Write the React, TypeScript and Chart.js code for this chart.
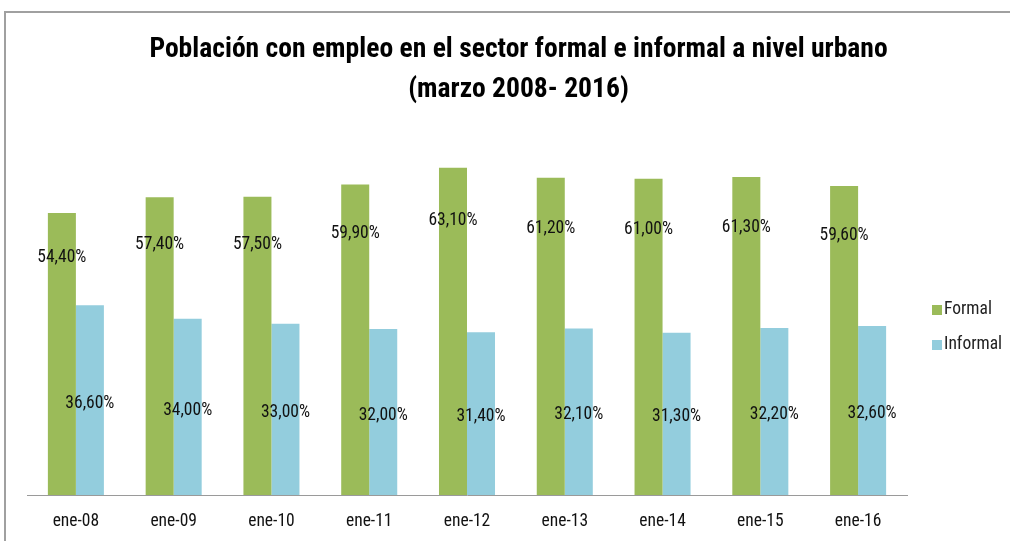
import React, { useEffect, useRef } from "react";
import { Chart, registerables } from "chart.js";

Chart.register(...registerables);

const categories = ["ene-08", "ene-09", "ene-10", "ene-11", "ene-12", "ene-13", "ene-14", "ene-15", "ene-16"];
const formal = [54.4, 57.4, 57.5, 59.9, 63.1, 61.2, 61.0, 61.3, 59.6];
const informal = [36.6, 34.0, 33.0, 32.0, 31.4, 32.1, 31.3, 32.2, 32.6];
const titleLines = ["Población con empleo en el sector formal e informal a nivel urbano", "(marzo 2008- 2016)"];

const FONT = '"Roboto Condensed", "Liberation Sans Narrow", "Arial Narrow", sans-serif';

const labelPlugin = {
  id: "valueLabels",
  afterDatasetsDraw(chart: any) {
    const ctx = chart.ctx;
    const yScale = chart.scales.y;
    const fracs = [0.84, 0.48];
    ctx.save();
    ctx.font = `17.5px ${FONT}`;
    ctx.fillStyle = "#111";
    ctx.textAlign = "center";
    ctx.textBaseline = "middle";
    chart.data.datasets.forEach((ds: any, di: number) => {
      const meta = chart.getDatasetMeta(di);
      meta.data.forEach((bar: any, i: number) => {
        const v = ds.data[i] as number;
        const y = yScale.getPixelForValue(v * fracs[di]);
        const txt = v.toFixed(2).replace(".", ",") + "%";
        ctx.fillText(txt, bar.x, y);
      });
    });
    ctx.restore();
  },
};

const legendPlugin = {
  id: "sideLegend",
  afterDraw(chart: any) {
    const ctx = chart.ctx;
    const x0 = chart.chartArea.right + 25;
    const yTop = 310;
    const gap = 35;
    ctx.save();
    ctx.font = `17.5px ${FONT}`;
    ctx.textBaseline = "middle";
    ctx.textAlign = "left";
    chart.data.datasets.forEach((ds: any, i: number) => {
      const y = yTop + i * gap;
      ctx.fillStyle = ds.backgroundColor;
      ctx.fillRect(x0, y - 5, 10, 10);
      ctx.fillStyle = "#222";
      ctx.fillText(ds.label, x0 + 12, y);
    });
    ctx.restore();
  },
};

export default function App() {
  const ref = useRef<HTMLCanvasElement>(null);
  useEffect(() => {
    if (!ref.current) return;
    const chart = new Chart(ref.current, {
      type: "bar",
      data: {
        labels: categories,
        datasets: [
          { label: "Formal", data: formal, backgroundColor: "#9BBB59", borderWidth: 0 },
          { label: "Informal", data: informal, backgroundColor: "#93CDDD", borderWidth: 0 },
        ],
      },
      options: {
        animation: false,
        responsive: false,
        maintainAspectRatio: false,
        layout: { padding: { left: 27, right: 0, top: 0, bottom: 10 } },
        datasets: { bar: { barPercentage: 1, categoryPercentage: 0.573 } } as any,
        scales: {
          x: {
            grid: { display: false, drawTicks: false },
            border: { display: true, color: "#9a9a9a", width: 1 },
            ticks: { color: "#111", font: { family: FONT, size: 17.5 }, padding: 16, maxRotation: 0 },
            afterFit: (s: any) => {
              s.height = 36;
            },
          },
          y: {
            display: true,
            position: "right",
            min: 0,
            max: 70,
            grid: { display: false, drawTicks: false },
            border: { display: false },
            ticks: { display: false },
            afterFit: (s: any) => {
              s.width = 103;
            },
          },
        },
        plugins: {
          title: {
            display: true,
            text: titleLines,
            color: "#000",
            font: { family: FONT, size: 27.6, weight: "bold", lineHeight: "40px" },
            padding: { top: 30, bottom: 22 },
          },
          legend: { display: false },
          tooltip: { enabled: false },
        },
      },
      plugins: [labelPlugin, legendPlugin],
    });
    return () => chart.destroy();
  }, []);
  return (
    <div style={{ position: "fixed", left: 0, top: 0, width: 1010, height: 541, background: "#fff", overflow: "hidden" }}>
      <div style={{ position: "absolute", left: 4, top: 11, right: -10, bottom: -10, borderTop: "2px solid #a0a0a0", borderLeft: "2px solid #a0a0a0" }} />
      <canvas ref={ref} width={1010} height={541} style={{ position: "absolute", left: 0, top: 0 }} />
    </div>
  );
}
